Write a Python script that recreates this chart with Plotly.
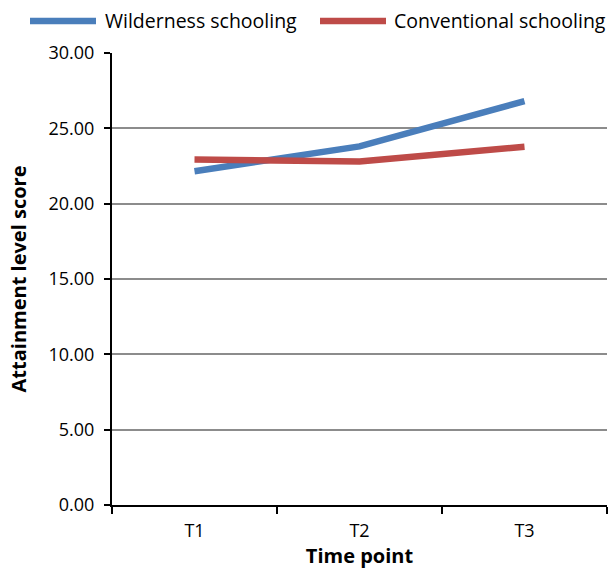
import plotly.graph_objects as go

categories = ["T1", "T2", "T3"]
wilderness = [22.15, 23.8, 26.8]
conventional = [22.93, 22.8, 23.78]
series_names = ["Wilderness schooling", "Conventional schooling"]
series_colors = ["#4A7EBB", "#BE4B48"]
y_ticks = [0, 5, 10, 15, 20, 25, 30]

FONT = "Open Sans"
W, H = 608, 571
ML, MR, MT, MB = 112, 1, 53, 66
PW, PH = W - ML - MR, H - MT - MB

fig = go.Figure()
for name, vals, col in zip(series_names, [wilderness, conventional], series_colors):
    fig.add_trace(go.Scatter(x=categories, y=vals, mode="lines", name=name,
                             showlegend=False, line=dict(color=col, width=6.5)))

# manual legend (longer line samples as in reference)
def px_x(p):
    return (p - ML) / PW

def px_y(p):
    return (H - MB - p) / PH

legend_items = [(30, 96, 103), (320, 386, 392)]
LEG_Y = 21
for (x0, x1, xt), name, col in zip(legend_items, series_names, series_colors):
    fig.add_shape(type="line", xref="paper", yref="paper",
                  x0=px_x(x0), x1=px_x(x1), y0=px_y(LEG_Y), y1=px_y(LEG_Y),
                  line=dict(color=col, width=6.5))
    fig.add_annotation(xref="paper", yref="paper", x=px_x(xt), y=px_y(LEG_Y),
                       xanchor="left", yanchor="middle", showarrow=False,
                       text=name, font=dict(size=19.5, color="black", family=FONT))

fig.update_layout(
    width=W, height=H,
    paper_bgcolor="white", plot_bgcolor="white",
    margin=dict(l=ML, r=MR, t=MT, b=MB),
    font=dict(family=FONT, size=18, color="black"),
    showlegend=False,
    xaxis=dict(type="category", range=[-0.5, 2.5], tickson="boundaries",
               ticks="outside", ticklen=7, tickwidth=2, tickcolor="black",
               showline=True, linecolor="black", linewidth=2, showgrid=False,
               ticklabelstandoff=8,
               title=dict(text="<b>Time point</b>", font=dict(size=20), standoff=8),
               tickfont=dict(size=18)),
    yaxis=dict(range=[0, 30], tickvals=y_ticks, tickformat=".2f",
               ticks="outside", ticklen=6, tickwidth=2, tickcolor="black",
               showline=True, linecolor="black", linewidth=2,
               showgrid=True, gridcolor="#8C8C8C", gridwidth=2,
               zeroline=False, ticklabelstandoff=6,
               title=dict(text="<b>Attainment level score</b>", font=dict(size=20), standoff=16),
               tickfont=dict(size=18)),
)

fig.write_html("out.html", config={"displayModeBar": False},
               post_script="document.body.style.margin='0';document.body.style.overflow='hidden';")
